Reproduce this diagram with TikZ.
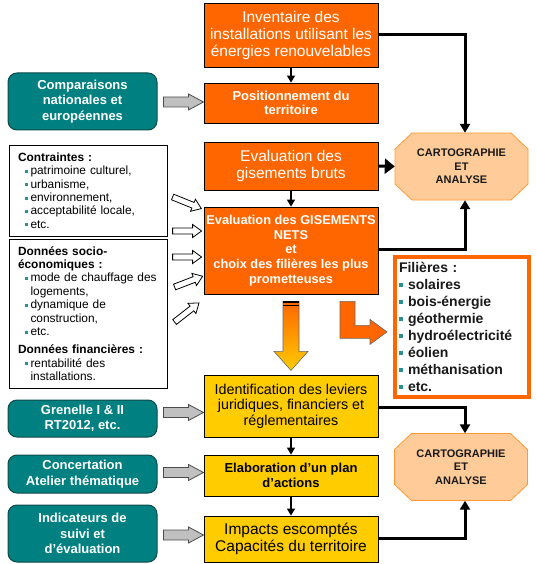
\documentclass[tikz,border=0pt]{standalone}
\usepackage{fontspec}
\setmainfont{Liberation Sans}
\usetikzlibrary{calc,arrows.meta}
\definecolor{orbox}{HTML}{FF6600}
\definecolor{yebox}{HTML}{FFCC00}
\definecolor{tealbox}{HTML}{008080}
\definecolor{tealdark}{HTML}{0D4A4A}
\definecolor{peach}{HTML}{FFCC99}
\definecolor{peachline}{HTML}{FF9933}
\definecolor{grayarr}{HTML}{C0C0C0}
\definecolor{bultl}{HTML}{2A9090}
\newcommand{\fs}[2]{\fontsize{#1}{#2}\selectfont}
\newcommand{\bul}[1]{\textcolor{bultl}{\rule[0.28ex]{#1}{#1}}}
\newcommand{\fatarr}[5]{\path[#1] (0,-#3)--({#2-#5},-#3)--({#2-#5},-#4)--(#2,0)--({#2-#5},#4)--({#2-#5},#3)--(0,#3)--cycle;}
\newcommand{\octpath}{\path[octline] (-49.5,-33.5)--(49.5,-33.5)--(66.5,-17.5)--(66.5,17.5)--(49.5,33.5)--(-49.5,33.5)--(-66.5,17.5)--(-66.5,-17.5)--cycle;}
\begin{document}
\begin{tikzpicture}[x=1pt,y=-1pt,
  obox/.style={draw=black, line width=0.8pt, fill=orbox, text=white, minimum width=174pt, inner sep=1pt, align=center},
  ybox/.style={draw=black, line width=0.8pt, fill=yebox, text=black, minimum width=174pt, inner sep=1pt, align=center},
  tbox/.style={draw=tealdark, line width=1pt, fill=tealbox, text=white, rounded corners=9pt, minimum width=149pt, inner sep=1pt, align=center, font=\bfseries\fs{13}{15.5}},
  wbox/.style={draw=black, line width=0.8pt, fill=white, minimum width=158pt, inner xsep=9pt, inner ysep=2pt, text width=140pt, align=left, font=\fs{11.9}{13.4}},
  octtext/.style={minimum width=133pt, minimum height=67pt, inner sep=0pt, align=center, font=\bfseries\fs{11}{13.5}, text=black!90},
  octline/.style={fill=peach, draw=peachline, line width=0.8pt},
  thinarr/.style={draw=black, line width=1.2pt, -{Triangle[length=7pt,width=8pt]}},
  thickarr/.style={draw=black, line width=3pt, -{Triangle[length=9pt,width=10pt]}},
  grayfat/.style={draw=black!70, fill=grayarr, line width=0.8pt},
  whitefat/.style={draw=black, fill=white, line width=0.8pt},
  filbox/.style={draw=orbox, line width=4pt, fill=white, minimum width=134pt, minimum height=140pt, inner xsep=4pt, text width=126pt, align=left, font=\bfseries\fs{14}{17}, text=black!90}
]
\useasboundingbox (0,0) rectangle (537,564);

% centre column
\node[obox, minimum height=64pt, font=\fs{15.5}{17}] (inv) at (291,35) {Inventaire des\\installations utilisant les\\énergies renouvelables};
\node[obox, minimum height=40pt, font=\bfseries\fs{13}{14.5}] (pos) at (291,103) {Positionnement du\\territoire};
\node[obox, minimum height=48pt, font=\fs{15.5}{17}] (brut) at (291,166) {Evaluation des\\gisements bruts};
\node[obox, minimum height=87pt, font=\bfseries\fs{12.8}{14.8}] (nets) at (291,250.5) {Evaluation des GISEMENTS\\NETS\\et\\choix des filières les plus\\prometteuses};
\node[ybox, minimum height=62pt, font=\fs{14.3}{15.5}] (iden) at (291,406) {Identification des leviers\\juridiques, financiers et\\réglementaires};
\node[ybox, minimum height=41pt, font=\bfseries\fs{13}{15}] (elab) at (291,475.5) {Elaboration d’un plan\\d’actions};
\node[ybox, minimum height=46pt, font=\fs{15.5}{17.7}] (impa) at (291,539) {Impacts escomptés\\Capacités du territoire};

% teal boxes
\node[tbox, minimum height=57pt] (comp) at (82.5,101.5) {Comparaisons\\nationales et\\européennes};
\node[tbox, minimum height=37pt] (gren) at (82.5,418.5) {Grenelle I \& II\\RT2012, etc.};
\node[tbox, minimum height=38pt] (conc) at (82.5,474) {Concertation\\Atelier thématique};
\node[tbox, minimum height=57pt] (indi) at (82.5,533.5) {Indicateurs de\\suivi et\\d’évaluation};

% white boxes
\node[wbox, minimum height=91pt] (contr) at (88,190.5) {\textbf{Contraintes :}\\
\hspace*{7pt}\bul{3pt}\hspace{2.5pt}patrimoine culturel,\\
\hspace*{7pt}\bul{3pt}\hspace{2.5pt}urbanisme,\\
\hspace*{7pt}\bul{3pt}\hspace{2.5pt}environnement,\\
\hspace*{7pt}\bul{3pt}\hspace{2.5pt}acceptabilité locale,\\
\hspace*{7pt}\bul{3pt}\hspace{2.5pt}etc.};
\node[wbox, minimum height=149pt] (donn) at (88,313.5) {\textbf{Données socio-}\\
\textbf{économiques :}\\
\hspace*{7pt}\bul{3pt}\hspace{2.5pt}mode de chauffage des\\
\hspace*{12.5pt}logements,\\
\hspace*{7pt}\bul{3pt}\hspace{2.5pt}dynamique de\\
\hspace*{12.5pt}construction,\\
\hspace*{7pt}\bul{3pt}\hspace{2.5pt}etc.\\[5pt]
\textbf{Données financières :}\\
\hspace*{7pt}\bul{3pt}\hspace{2.5pt}rentabilité des\\
\hspace*{12.5pt}installations.};

% filieres
\node[filbox] (fil) at (462,327) {Filières :\\
\bul{4pt}\hspace{5pt}solaires\\
\bul{4pt}\hspace{5pt}bois-énergie\\
\bul{4pt}\hspace{5pt}géothermie\\
\bul{4pt}\hspace{5pt}hydroélectricité\\
\bul{4pt}\hspace{5pt}éolien\\
\bul{4pt}\hspace{5pt}méthanisation\\
\bul{4pt}\hspace{5pt}etc.};

% octagons
\begin{scope}[shift={(461.5,166.5)}]\octpath\end{scope}
\node[octtext] (oct1) at (461.5,166.5) {CARTOGRAPHIE\\ET\\ANALYSE};
\begin{scope}[shift={(461,467)}]\octpath\end{scope}
\node[octtext] (oct2) at (461,467) {CARTOGRAPHIE\\ET\\ANALYSE};
\coordinate (o1n) at ($(oct1.north)+(3.5,0)$);
\coordinate (o1s) at ($(oct1.south)+(3.5,0)$);
\coordinate (o2n) at ($(oct2.north)+(4,0)$);
\coordinate (o2s) at ($(oct2.south)+(4,0)$);

% thin connectors
\draw[thinarr] (inv.south) -- (pos.north);
\draw[thinarr] (brut.south) -- (nets.north);
\draw[thinarr] (iden.south) -- (elab.north);
\draw[thinarr] (elab.south) -- (impa.north);

% thick connectors
\draw[thickarr] (inv.east) -| (o1n);
\draw[draw=black, line width=3pt, -{Triangle[length=10pt,width=15pt]}] (brut.east) -- (oct1.west);
\draw[thickarr] ($(nets.east)+(0,-1.5)$) -| (o1s);
\draw[thickarr] ($(iden.east)+(0,1)$) -| (o2n);
\draw[thickarr] ($(impa.east)+(0,-1)$) -| (o2s);

% gray fat arrows
\begin{scope}[shift={($(comp.east)+(6,0.5)$)}]\fatarr{grayfat}{40}{5}{8}{15}\end{scope}
\begin{scope}[shift={($(gren.east)+(6,-6)$)}]\fatarr{grayfat}{40}{5}{8}{15}\end{scope}
\begin{scope}[shift={($(conc.east)+(6,-1.5)$)}]\fatarr{grayfat}{40}{5}{8}{15}\end{scope}
\begin{scope}[shift={($(indi.east)+(6,1.5)$)}]\fatarr{grayfat}{40}{5}{8}{15}\end{scope}

% white fat arrows
\begin{scope}[shift={($(nets.west)+(-31,-53.5)$)}, rotate=-22]\fatarr{whitefat}{31}{3}{6.5}{9}\end{scope}
\begin{scope}[shift={($(nets.west)+(-31,-19.5)$)}]\fatarr{whitefat}{29}{3}{6.5}{9}\end{scope}
\begin{scope}[shift={($(nets.west)+(-31,6.5)$)}]\fatarr{whitefat}{29}{3}{6.5}{9}\end{scope}
\begin{scope}[shift={($(nets.west)+(-29,36.5)$)}, rotate=21]\fatarr{whitefat}{30}{3}{6.5}{9}\end{scope}
\begin{scope}[shift={($(nets.west)+(-29,71.5)$)}, rotate=38]\fatarr{whitefat}{31}{3}{6.5}{9}\end{scope}

% big gradient arrow and bent arrow
\begin{scope}[shift={(nets.south)}]
  \shadedraw[top color=orbox, bottom color=yebox, draw=black!60, line width=0.6pt]
    (-8,7) -- (8,7) -- (8,57) -- (17,57) -- (0,76) -- (-17,57) -- (-8,57) -- cycle;
  \draw[line width=2pt] (-8,8) -- (8,8);
  \draw[line width=1pt] (-8,11.5) -- (8,11.5);
  \path[fill=orbox, draw=black!60, line width=0.6pt]
    (49,7) -- (64,7) -- (64,31) -- (79,31) -- (79,25) -- (96,37.5) -- (79,50) -- (79,44) -- (49,44) -- cycle;
\end{scope}
\end{tikzpicture}
\end{document}
